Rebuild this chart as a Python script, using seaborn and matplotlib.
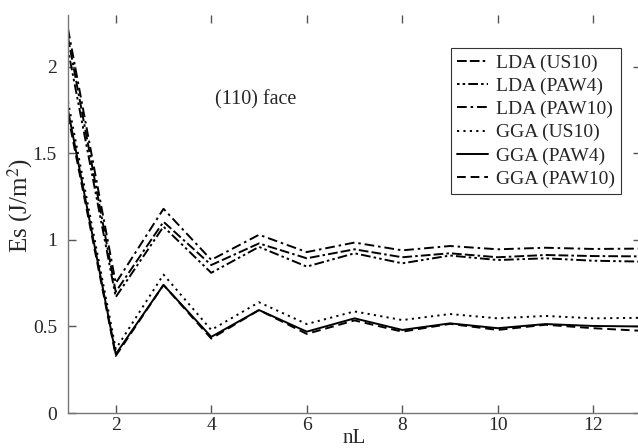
import numpy as np
import pandas as pd
import matplotlib
matplotlib.use("Agg")
import matplotlib.pyplot as plt
import seaborn as sns

nL = [1, 2, 3, 4, 5, 6, 7, 8, 9, 10, 11, 12, 13]
lda_us10 = [2.17, 0.70, 1.105, 0.855, 0.98, 0.894, 0.946, 0.90, 0.923, 0.90, 0.913, 0.907, 0.905]
lda_paw4 = [2.10, 0.67, 1.077, 0.81, 0.96, 0.846, 0.923, 0.865, 0.91, 0.884, 0.894, 0.88, 0.875]
lda_paw10 = [2.22, 0.75, 1.18, 0.885, 1.03, 0.93, 0.985, 0.94, 0.965, 0.946, 0.955, 0.948, 0.95]
gga_us10 = [1.80, 0.37, 0.80, 0.48, 0.64, 0.514, 0.587, 0.537, 0.572, 0.547, 0.561, 0.547, 0.55]
gga_paw4 = [1.75, 0.34, 0.74, 0.44, 0.595, 0.47, 0.547, 0.48, 0.518, 0.49, 0.514, 0.503, 0.50]
gga_paw10 = [1.72, 0.33, 0.74, 0.43, 0.595, 0.457, 0.535, 0.47, 0.515, 0.48, 0.51, 0.49, 0.475]

series_names = ["LDA (US10)", "LDA (PAW4)", "LDA (PAW10)", "GGA (US10)", "GGA (PAW4)", "GGA (PAW10)"]
series_vals = [lda_us10, lda_paw4, lda_paw10, gga_us10, gga_paw4, gga_paw10]

df = pd.concat([pd.DataFrame({"nL": nL, "Es": v, "series": n})
                for n, v in zip(series_names, series_vals)], ignore_index=True)

sns.set_style("ticks")
plt.rcParams["font.family"] = ["Liberation Serif", "DejaVu Serif"]
plt.rcParams["mathtext.fontset"] = "stix"

dashes = {
    "LDA (US10)": (5, 1.6, 5, 1.6, 1.3, 1.6),
    "LDA (PAW4)": (1.3, 1.6, 1.3, 1.6, 5, 1.6),
    "LDA (PAW10)": (5, 2, 1.3, 2),
    "GGA (US10)": (1.1, 2.2),
    "GGA (PAW4)": "",
    "GGA (PAW10)": (4.5, 2.5),
}

fig = plt.figure(figsize=(6.38, 4.48), dpi=100)
ax = fig.add_axes([68/638, 1-413/448, 573/638, 398/448])

sns.lineplot(data=df, x="nL", y="Es", style="series", style_order=series_names,
             dashes=dashes, color="black", linewidth=1.4, ax=ax, legend=True)

ax.set_xlim(1, 13)
ax.set_ylim(0, 2.3)
ax.set_xticks([2, 4, 6, 8, 10, 12])
ax.set_yticks([0, 0.5, 1, 1.5, 2])
ax.set_yticklabels(["0", "0.5", "1", "1.5", "2"])
ax.tick_params(direction="in", length=6, width=1, top=True, right=True,
               labelsize=14, color="#555555")
ax.tick_params(axis="y", pad=8)
ax.tick_params(axis="x", pad=3)
for s in ax.spines.values():
    s.set_color("#777777")
    s.set_linewidth(1)
ax.spines["top"].set_visible(False)

ax.set_xlabel("nL", fontsize=15, labelpad=-4)
ax.set_ylabel("Es (J/m$^2$)", fontsize=18, labelpad=1)
ax.yaxis.set_label_coords(-0.058, (413-205)/398)

ax.text(4.93, 1.81, "(110) face", fontsize=14.5, ha="center", va="center")

handles, labels = ax.get_legend_handles_labels()
leg = ax.legend(handles, labels, loc="upper left", bbox_to_anchor=((451-68)/573, (413-48)/398),
                fontsize=14, frameon=True, fancybox=False, edgecolor="black",
                handlelength=1.6, handletextpad=0.4, labelspacing=0.29,
                borderpad=0.3, borderaxespad=0)
leg.get_frame().set_linewidth(0.8)

fig.savefig("out.png", dpi=100)
